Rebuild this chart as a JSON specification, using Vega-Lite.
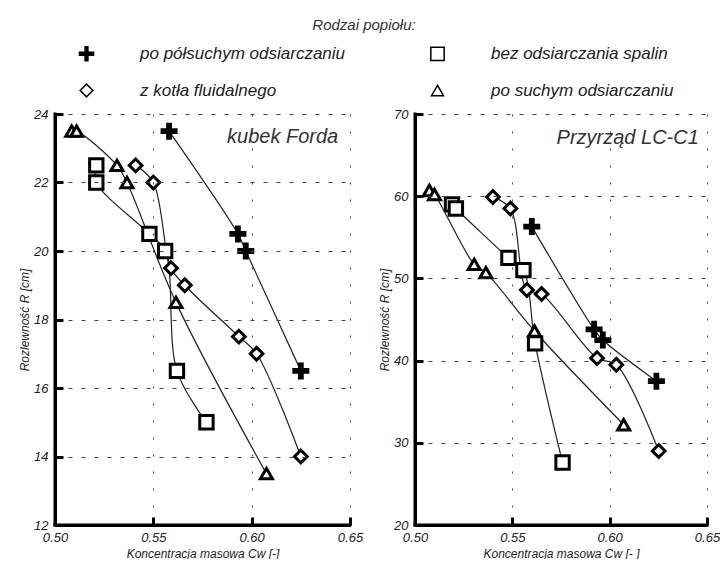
{
  "$schema": "https://vega.github.io/schema/vega-lite/v6.json",
  "background": "white",
  "padding": {"left": 18, "top": 18, "right": 0, "bottom": 0},
  "datasets": {
    "pts": [
      {"panel": "A", "series": "po półsuchym odsiarczaniu", "i": 1, "cw": 0.558, "r": 23.5},
      {"panel": "A", "series": "po półsuchym odsiarczaniu", "i": 2, "cw": 0.593, "r": 20.5},
      {"panel": "A", "series": "po półsuchym odsiarczaniu", "i": 3, "cw": 0.597, "r": 20.0},
      {"panel": "A", "series": "po półsuchym odsiarczaniu", "i": 4, "cw": 0.625, "r": 16.5},
      {"panel": "A", "series": "bez odsiarczania spalin", "i": 1, "cw": 0.521, "r": 22.5},
      {"panel": "A", "series": "bez odsiarczania spalin", "i": 2, "cw": 0.521, "r": 22.0},
      {"panel": "A", "series": "bez odsiarczania spalin", "i": 3, "cw": 0.548, "r": 20.5},
      {"panel": "A", "series": "bez odsiarczania spalin", "i": 4, "cw": 0.556, "r": 20.0},
      {"panel": "A", "series": "bez odsiarczania spalin", "i": 5, "cw": 0.562, "r": 16.5},
      {"panel": "A", "series": "bez odsiarczania spalin", "i": 6, "cw": 0.577, "r": 15.0},
      {"panel": "A", "series": "z kotła fluidalnego", "i": 1, "cw": 0.541, "r": 22.5},
      {"panel": "A", "series": "z kotła fluidalnego", "i": 2, "cw": 0.550, "r": 22.0},
      {"panel": "A", "series": "z kotła fluidalnego", "i": 3, "cw": 0.559, "r": 19.5},
      {"panel": "A", "series": "z kotła fluidalnego", "i": 4, "cw": 0.566, "r": 19.0},
      {"panel": "A", "series": "z kotła fluidalnego", "i": 5, "cw": 0.5935, "r": 17.5},
      {"panel": "A", "series": "z kotła fluidalnego", "i": 6, "cw": 0.6025, "r": 17.0},
      {"panel": "A", "series": "z kotła fluidalnego", "i": 7, "cw": 0.625, "r": 14.0},
      {"panel": "A", "series": "po suchym odsiarczaniu", "i": 1, "cw": 0.5085, "r": 23.5},
      {"panel": "A", "series": "po suchym odsiarczaniu", "i": 2, "cw": 0.511, "r": 23.5},
      {"panel": "A", "series": "po suchym odsiarczaniu", "i": 3, "cw": 0.5315, "r": 22.5},
      {"panel": "A", "series": "po suchym odsiarczaniu", "i": 4, "cw": 0.5366, "r": 22.0},
      {"panel": "A", "series": "po suchym odsiarczaniu", "i": 5, "cw": 0.5615, "r": 18.5},
      {"panel": "A", "series": "po suchym odsiarczaniu", "i": 6, "cw": 0.6075, "r": 13.5},
      {"panel": "B", "series": "po półsuchym odsiarczaniu", "i": 1, "cw": 0.560, "r": 56.3},
      {"panel": "B", "series": "po półsuchym odsiarczaniu", "i": 2, "cw": 0.592, "r": 43.8},
      {"panel": "B", "series": "po półsuchym odsiarczaniu", "i": 3, "cw": 0.5965, "r": 42.5},
      {"panel": "B", "series": "po półsuchym odsiarczaniu", "i": 4, "cw": 0.624, "r": 37.5},
      {"panel": "B", "series": "bez odsiarczania spalin", "i": 1, "cw": 0.519, "r": 59.0},
      {"panel": "B", "series": "bez odsiarczania spalin", "i": 2, "cw": 0.521, "r": 58.5},
      {"panel": "B", "series": "bez odsiarczania spalin", "i": 3, "cw": 0.548, "r": 52.5},
      {"panel": "B", "series": "bez odsiarczania spalin", "i": 4, "cw": 0.5557, "r": 51.0},
      {"panel": "B", "series": "bez odsiarczania spalin", "i": 5, "cw": 0.5617, "r": 42.1},
      {"panel": "B", "series": "bez odsiarczania spalin", "i": 6, "cw": 0.5758, "r": 27.6},
      {"panel": "B", "series": "z kotła fluidalnego", "i": 1, "cw": 0.540, "r": 59.9},
      {"panel": "B", "series": "z kotła fluidalnego", "i": 2, "cw": 0.549, "r": 58.5},
      {"panel": "B", "series": "z kotła fluidalnego", "i": 3, "cw": 0.5575, "r": 48.6},
      {"panel": "B", "series": "z kotła fluidalnego", "i": 4, "cw": 0.565, "r": 48.1},
      {"panel": "B", "series": "z kotła fluidalnego", "i": 5, "cw": 0.5935, "r": 40.3},
      {"panel": "B", "series": "z kotła fluidalnego", "i": 6, "cw": 0.6034, "r": 39.5},
      {"panel": "B", "series": "z kotła fluidalnego", "i": 7, "cw": 0.6252, "r": 29.0},
      {"panel": "B", "series": "po suchym odsiarczaniu", "i": 1, "cw": 0.5074, "r": 60.7},
      {"panel": "B", "series": "po suchym odsiarczaniu", "i": 2, "cw": 0.510, "r": 60.2},
      {"panel": "B", "series": "po suchym odsiarczaniu", "i": 3, "cw": 0.5304, "r": 51.7},
      {"panel": "B", "series": "po suchym odsiarczaniu", "i": 4, "cw": 0.5364, "r": 50.7},
      {"panel": "B", "series": "po suchym odsiarczaniu", "i": 5, "cw": 0.5614, "r": 43.6},
      {"panel": "B", "series": "po suchym odsiarczaniu", "i": 6, "cw": 0.6072, "r": 32.2}
    ]
  },
  "config": {
    "font": "Liberation Sans",
    "view": {"stroke": null},
    "axis": {
      "labelFont": "Liberation Sans", "labelFontStyle": "italic", "labelFontSize": 13, "labelColor": "#222", "labelFlush": false,
      "titleFont": "Liberation Sans", "titleFontStyle": "italic", "titleFontWeight": "normal", "titleFontSize": 12, "titleColor": "#222",
      "domain": true, "domainColor": "#000000", "domainWidth": 3,
      "ticks": true, "tickColor": "#000000", "tickWidth": 3, "tickSize": -8,
      "gridColor": "#444", "gridWidth": 1, "gridOpacity": 1,
      "zindex": 1
    },
    "axisX": {"gridDash": [2, 15], "labelPadding": 14, "titlePadding": 4},
    "axisY": {"gridDash": [4, 9], "labelPadding": 15, "titlePadding": 2},
    "legend": {
      "orient": "top", "columns": 2, "offset": 8,
      "labelFont": "Liberation Sans", "labelFontSize": 17, "labelFontStyle": "italic", "labelColor": "#222",
      "symbolOffset": 23, "labelOffset": 45, "columnPadding": 60, "rowPadding": 17, "labelLimit": 320,
      "titleFont": "Liberation Sans", "titleFontStyle": "italic", "titleFontWeight": "normal", "titleFontSize": 15, "titleColor": "#333",
      "titleAnchor": "middle", "titlePadding": 12
    }
  },
  "resolve": {"scale": {"x": "independent", "y": "independent", "shape": "shared", "fill": "shared", "size": "shared"}},
  "spacing": 15,
  "hconcat": [
    {
      "width": 295, "height": 411,
      "data": {"name": "pts"},
      "transform": [{"filter": "datum.panel === 'A'"}],
      "layer": [
        {
          "mark": {"type": "line", "interpolate": "catmull-rom", "color": "#222", "strokeWidth": 1.2},
          "encoding": {
            "x": {"field": "cw", "type": "quantitative", "scale": {"domain": [0.5, 0.65], "nice": false, "zero": false}, "axis": {"values": [0.5, 0.55, 0.6, 0.65], "format": ".2f", "title": "Koncentracja masowa Cw  [-]", "domain": true, "ticks": true, "zindex": 1}},
            "y": {"field": "r", "type": "quantitative", "scale": {"domain": [12, 24], "nice": false, "zero": false}, "axis": {"values": [12, 14, 16, 18, 20, 22, 24], "title": "Rozlewność R [cm]", "domain": true, "ticks": true, "zindex": 1}},
            "detail": {"field": "series"},
            "order": {"field": "i", "type": "quantitative"}
          }
        },
        {
          "data": {"values": [{}]},
          "mark": {"type": "rule", "color": "black", "strokeWidth": 3, "strokeCap": "square"},
          "encoding": {"x": {"datum": 0.5}, "y": {"datum": 12}, "y2": {"datum": 24}}
        },
        {
          "data": {"values": [{}]},
          "mark": {"type": "rule", "color": "black", "strokeWidth": 3, "strokeCap": "square"},
          "encoding": {"y": {"datum": 12}, "x": {"datum": 0.5}, "x2": {"datum": 0.65}}
        },
        {
          "mark": {"type": "point", "filled": true, "stroke": "black", "strokeWidth": 3, "opacity": 1},
          "encoding": {
            "x": {"field": "cw", "type": "quantitative"},
            "y": {"field": "r", "type": "quantitative"},
            "shape": {"field": "series", "type": "nominal", "title": "Rodzai popiołu:", "scale": {"domain": ["po półsuchym odsiarczaniu", "bez odsiarczania spalin", "z kotła fluidalnego", "po suchym odsiarczaniu"], "range": ["M-0.2,-1H0.2V-0.2H1V0.2H0.2V1H-0.2V0.2H-1V-0.2H-0.2Z", "square", "diamond", "triangle-up"]},
              "legend": {"encode": {"symbols": {"update": {"stroke": {"value": "black"}, "strokeWidth": {"value": 3}}}}}},
            "fill": {"field": "series", "type": "nominal", "title": "Rodzai popiołu:", "scale": {"domain": ["po półsuchym odsiarczaniu", "bez odsiarczania spalin", "z kotła fluidalnego", "po suchym odsiarczaniu"], "range": ["black", "white", "white", "white"]}},
            "size": {"field": "series", "type": "nominal", "title": "Rodzai popiołu:", "scale": {"domain": ["po półsuchym odsiarczaniu", "bez odsiarczania spalin", "z kotła fluidalnego", "po suchym odsiarczaniu"], "range": [196, 144, 121, 140]}}
          }
        },
        {
          "data": {"values": [{}]},
          "mark": {"type": "text", "align": "right", "baseline": "middle", "fontSize": 20, "fontStyle": "italic", "font": "Liberation Sans", "color": "#333"},
          "encoding": {"x": {"datum": 0.644}, "y": {"datum": 23.33}, "text": {"value": "kubek Forda"}}
        }
      ]
    },
    {
      "width": 292, "height": 411,
      "data": {"name": "pts"},
      "transform": [{"filter": "datum.panel === 'B'"}],
      "layer": [
        {
          "mark": {"type": "line", "interpolate": "catmull-rom", "color": "#222", "strokeWidth": 1.2},
          "encoding": {
            "x": {"field": "cw", "type": "quantitative", "scale": {"domain": [0.5, 0.65], "nice": false, "zero": false}, "axis": {"values": [0.5, 0.55, 0.6, 0.65], "format": ".2f", "title": "Koncentracja masowa Cw [- ]", "domain": true, "ticks": true, "zindex": 1}},
            "y": {"field": "r", "type": "quantitative", "scale": {"domain": [20, 70], "nice": false, "zero": false}, "axis": {"values": [20, 30, 40, 50, 60, 70], "title": "Rozlewność R [cm]", "domain": true, "ticks": true, "zindex": 1}},
            "detail": {"field": "series"},
            "order": {"field": "i", "type": "quantitative"}
          }
        },
        {
          "data": {"values": [{}]},
          "mark": {"type": "rule", "color": "black", "strokeWidth": 3, "strokeCap": "square"},
          "encoding": {"x": {"datum": 0.5}, "y": {"datum": 20}, "y2": {"datum": 70}}
        },
        {
          "data": {"values": [{}]},
          "mark": {"type": "rule", "color": "black", "strokeWidth": 3, "strokeCap": "square"},
          "encoding": {"y": {"datum": 20}, "x": {"datum": 0.5}, "x2": {"datum": 0.65}}
        },
        {
          "mark": {"type": "point", "filled": true, "stroke": "black", "strokeWidth": 3, "opacity": 1},
          "encoding": {
            "x": {"field": "cw", "type": "quantitative"},
            "y": {"field": "r", "type": "quantitative"},
            "shape": {"field": "series", "type": "nominal", "title": "Rodzai popiołu:"},
            "fill": {"field": "series", "type": "nominal", "title": "Rodzai popiołu:"},
            "size": {"field": "series", "type": "nominal", "title": "Rodzai popiołu:"}
          }
        },
        {
          "data": {"values": [{}]},
          "mark": {"type": "text", "align": "right", "baseline": "middle", "fontSize": 20, "fontStyle": "italic", "font": "Liberation Sans", "color": "#333"},
          "encoding": {"x": {"datum": 0.6458}, "y": {"datum": 67.1}, "text": {"value": "Przyrząd LC-C1"}}
        }
      ]
    }
  ]
}
